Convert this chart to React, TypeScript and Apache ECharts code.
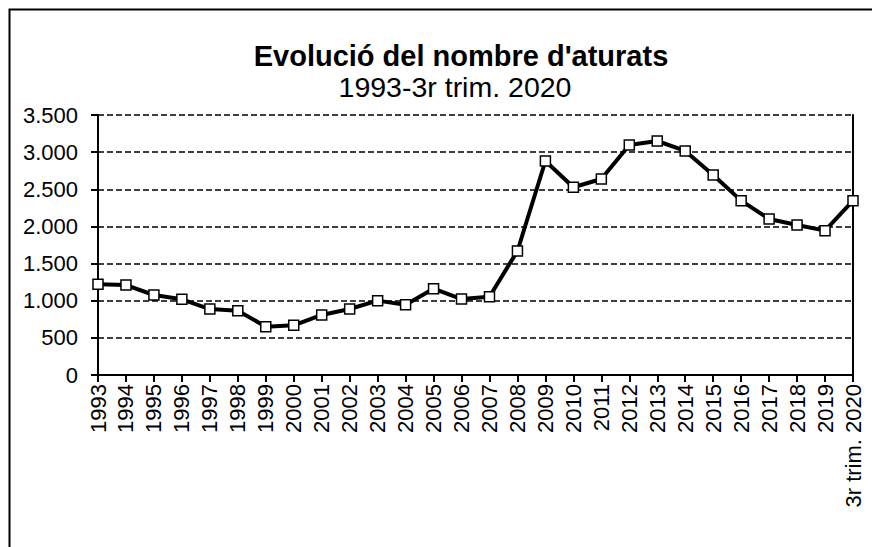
import React, { useEffect, useRef } from "react";
import * as echarts from "echarts";

const categories = [
  "1993", "1994", "1995", "1996", "1997", "1998", "1999", "2000", "2001", "2002",
  "2003", "2004", "2005", "2006", "2007", "2008", "2009", "2010", "2011", "2012",
  "2013", "2014", "2015", "2016", "2017", "2018", "2019", "3r trim. 2020",
];
const unemployed = [
  1220, 1210, 1077, 1019, 888, 866, 651, 669, 808, 888,
  1001, 947, 1162, 1023, 1054, 1669, 2881, 2527, 2639, 3096,
  3150, 3016, 2693, 2347, 2100, 2019, 1943, 2347,
];
const titleText = "Evolució del nombre d'aturats";
const subtitleText = "1993-3r trim. 2020";

const FONT = "'Liberation Sans', Arial, sans-serif";

function fmt(v: number): string {
  const s = String(Math.round(v));
  return s.replace(/\B(?=(\d{3})+(?!\d))/g, ".");
}

export default function App() {
  const ref = useRef<HTMLDivElement>(null);
  useEffect(() => {
    if (!ref.current) return;
    const chart = echarts.init(ref.current, undefined, { renderer: "svg" });
    chart.setOption({
      animation: false,
      backgroundColor: "#ffffff",
      textStyle: { fontFamily: FONT },
      grid: { left: 90, right: 19, top: 107, bottom: 172, containLabel: false },
      graphic: [
        {
          type: "polyline",
          shape: { points: [[1.5, 3000], [1.5, 1.5], [3000, 1.5]] },
          style: { fill: "none", stroke: "#000", lineWidth: 2 },
          silent: true,
        },
        {
          type: "text",
          x: 453,
          y: 48,
          style: {
            text: titleText,
            fontFamily: FONT,
            fontSize: 29,
            fontWeight: "bold",
            fill: "#000",
            align: "center",
            verticalAlign: "middle",
          },
        },
        {
          type: "text",
          x: 447,
          y: 79,
          style: {
            text: subtitleText,
            fontFamily: FONT,
            fontSize: 28.5,
            fill: "#000",
            align: "center",
            verticalAlign: "middle",
          },
        },
      ],
      xAxis: {
        type: "category",
        data: categories,
        boundaryGap: false,
        axisLine: { show: true, lineStyle: { color: "#000", width: 2 } },
        axisTick: { show: true, inside: false, length: 7, lineStyle: { color: "#000", width: 2 }, alignWithLabel: true },
        axisLabel: {
          rotate: 90,
          interval: 0,
          margin: 9,
          color: "#000",
          fontSize: 22,
          fontFamily: FONT,
        },
        splitLine: { show: false },
      },
      yAxis: [
        {
          type: "value",
          min: 0,
          max: 3500,
          interval: 500,
          axisLine: { show: true, lineStyle: { color: "#000", width: 2 } },
          axisTick: { show: true, inside: false, length: 7, lineStyle: { color: "#000", width: 2 } },
          axisLabel: {
            margin: 20,
            color: "#000",
            fontSize: 22,
            fontFamily: FONT,
            formatter: (v: number) => fmt(v),
          },
          splitLine: { show: true, lineStyle: { color: "#000", type: [6, 3], width: 1.5 } },
        },
        {
          type: "value",
          position: "right",
          min: 0,
          max: 3500,
          interval: 500,
          axisLine: { show: true, lineStyle: { color: "#000", width: 2 } },
          axisTick: { show: false },
          axisLabel: { show: false },
          splitLine: { show: false },
        },
      ],
      series: [
        {
          type: "line",
          data: unemployed,
          yAxisIndex: 0,
          lineStyle: { color: "#000", width: 4 },
          symbol: "rect",
          symbolSize: 10,
          showAllSymbol: true,
          itemStyle: { color: "#fff", borderColor: "#000", borderWidth: 1.5 },
          z: 3,
        },
      ],
    });
    return () => chart.dispose();
  }, []);
  return (
    <div
      ref={ref}
      style={{ position: "absolute", left: 8, top: 8, width: 864, height: 539 }}
    />
  );
}
